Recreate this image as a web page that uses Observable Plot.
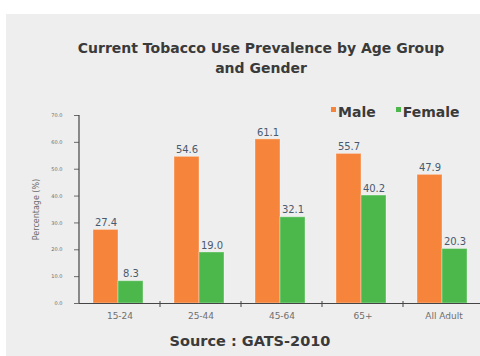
<!DOCTYPE html>
<html>
<head>
<meta charset="utf-8">
<script src="https://cdn.jsdelivr.net/npm/d3@7"></script>
<script src="https://cdn.jsdelivr.net/npm/@observablehq/plot@0.6"></script>
<style>
  html, body { margin: 0; padding: 0; background: #ffffff; }
  #page { position: relative; width: 480px; height: 356px; overflow: hidden; font-family: "DejaVu Sans", Verdana, sans-serif; }
  #panel { position: absolute; left: 6px; top: 14px; width: 474px; height: 342px; background: #eeeeee; }
  #title { position: absolute; left: 40px; top: 38px; width: 442px; text-align: center;
           font-weight: bold; font-size: 14px; line-height: 20px; color: #3a3a3a; white-space: nowrap; }
  #chart { position: absolute; left: 0; top: 100px; }
  #legend { position: absolute; left: 331px; top: 104px; }
  #legend > div { font-family: "DejaVu Sans", sans-serif !important; font-weight: bold !important;
                  font-size: 14px !important; color: #3a3a3a !important; min-height: 0 !important;
                  margin: 0 !important; }
  #legend > div > span { margin-right: 20px !important; }
  #legend > div > span > svg { margin-right: 2px !important; margin-top: -5px; }
  #source { position: absolute; left: 0; top: 332px; width: 500px; text-align: center;
            font-weight: bold; font-size: 14.5px; line-height: 18px; color: #3a3a3a; }
</style>
</head>
<body>
<div id="page">
  <div id="panel"></div>
  <div id="title">Current Tobacco Use Prevalence by Age Group<br>and Gender</div>
  <div id="chart"></div>
  <div id="legend"></div>
  <div id="source">Source : GATS-2010</div>
</div>
<script>
// Age groups and current tobacco use (%) by gender, GATS-2010
const categories = ["15-24", "25-44", "45-64", "65+", "All Adult"];
const genders = ["Male", "Female"];
const maleValues = [27.4, 54.6, 61.1, 55.7, 47.9];
const femaleValues = [8.3, 19.0, 32.1, 40.2, 20.3];
const yTicks = [0, 10, 20, 30, 40, 50, 60, 70];
const genderColors = ["#f6843a", "#4cb84c"];

const data = categories.flatMap((category, i) => [
  {category, gender: genders[0], value: maleValues[i]},
  {category, gender: genders[1], value: femaleValues[i]}
]);

const chart = Plot.plot({
  width: 480,
  height: 225,
  marginLeft: 79,
  marginRight: -4,
  marginTop: 15,
  marginBottom: 22,
  style: {background: "transparent", fontFamily: "DejaVu Sans, Verdana, sans-serif", overflow: "visible"},
  fx: {domain: categories, padding: 0, label: null},
  x: {domain: genders, paddingInner: 0, paddingOuter: 0.56, align: 0.45, axis: null},
  y: {domain: [0, 70], axis: null},
  color: {domain: genders, range: genderColors},
  marks: [
    Plot.axisFx({anchor: "bottom", tickSize: 0, tickPadding: 9, fontSize: 9, color: "#6e6e6e", label: null}),
    Plot.axisY({ticks: yTicks, tickFormat: d => d.toFixed(1), tickSize: 5, tickPadding: 12,
                fontSize: 5, color: "#6a6a6a", label: null}),
    Plot.axisY({ticks: [], label: "Percentage (%)", labelAnchor: "center", labelArrow: "none",
                labelOffset: 46, fontSize: 8, color: "#6a6a6a", dy: -11}),
    Plot.barY(data, {fx: "category", x: "gender", y: "value", fill: "gender",
                     stroke: "#ffffff", strokeOpacity: 0.35}),
    Plot.text(data, {fx: "category", x: "gender", y: "value", text: d => d.value.toFixed(1),
                     dy: -7, fontSize: 10, fill: "#4a5a6e"}),
    Plot.ruleY([0], {stroke: "#454545", strokeWidth: 1.2})
  ]
});

// Vertical axis line and the group separator ticks on the baseline
const fx = chart.scale("fx");
const y = chart.scale("y");
const svg = d3.select(chart.tagName.toLowerCase() === "svg" ? chart : chart.querySelector("svg"));
const x0 = fx.apply(categories[0]);
svg.append("line")
  .attr("x1", x0).attr("x2", x0)
  .attr("y1", y.apply(0)).attr("y2", y.apply(70))
  .attr("stroke", "#454545").attr("stroke-width", 1.2);
svg.selectAll("line.sep")
  .data(categories.slice(1))
  .join("line")
  .attr("class", "sep")
  .attr("x1", c => fx.apply(c)).attr("x2", c => fx.apply(c))
  .attr("y1", y.apply(0) - 2).attr("y2", y.apply(0) + 4)
  .attr("stroke", "#454545");

document.getElementById("chart").append(chart);

const legend = Plot.legend({
  color: {domain: genders, range: genderColors},
  swatchSize: 5,
  className: "leg"
});
document.getElementById("legend").append(legend);
</script>
</body>
</html>
